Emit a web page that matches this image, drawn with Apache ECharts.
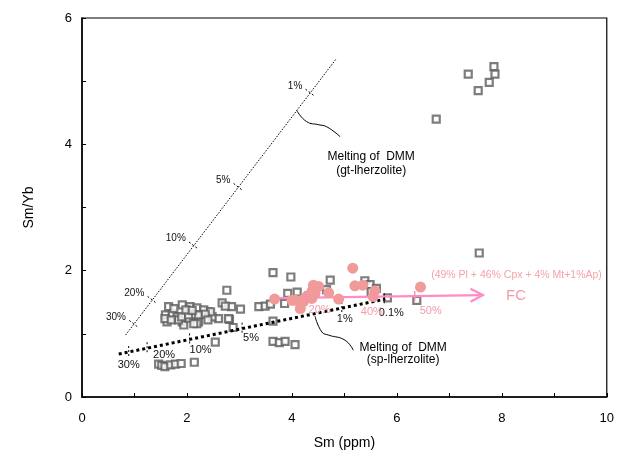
<!DOCTYPE html>
<html><head><meta charset="utf-8">
<script src="https://cdn.jsdelivr.net/npm/echarts@6/dist/echarts.min.js"></script>
<style>html,body{margin:0;padding:0;background:#fff}#c{width:617px;height:464px}</style>
</head><body><div id="c"></div>
<script>
// ---------- data ----------
const grayPoints = [
  [7.36,5.11],[7.85,5.23],[7.87,5.11],[7.76,4.98],[7.55,4.85],[6.75,4.40],[7.57,2.28],
  [3.64,1.97],[3.98,1.90],[4.73,1.85],[5.39,1.84],[5.49,1.78],[5.61,1.72],[5.51,1.67],
  [2.76,1.69],[3.92,1.64],[4.10,1.66],[4.66,1.70],[4.32,1.60],[3.86,1.48],[5.82,1.57],[6.38,1.53],
  [3.37,1.43],[3.49,1.44],[3.59,1.47],[2.67,1.49],[2.85,1.43],[3.02,1.39],[2.73,1.44],
  [2.60,1.24],[2.81,1.23],[2.88,1.10],[3.64,1.20],[2.54,0.87],
  [3.64,0.88],[3.76,0.86],[3.87,0.88],[4.06,0.83],
  [2.14,0.55],[1.46,0.52],[1.52,0.50],[1.58,0.48],[1.69,0.51],[1.78,0.52],[1.89,0.53],
  [1.59,1.30],[1.62,1.19],[1.72,1.32],[1.81,1.27],[1.91,1.19],[1.94,1.14],[2.03,1.25],
  [2.13,1.30],[2.22,1.19],[2.19,1.16],[2.32,1.32],[2.41,1.35],[2.48,1.27],[2.79,1.24],
  [1.65,1.43],[1.91,1.46],[2.06,1.43],[2.19,1.41],[2.32,1.38],[2.45,1.35],[1.84,1.22],
  [2.13,1.16],[1.90,1.27],[2.03,1.30],[2.22,1.30],[2.35,1.31],[1.75,1.40],[1.98,1.38],
  [2.10,1.37],[1.58,1.24],[1.70,1.22],[2.40,1.22]
];
const pinkPoints = [
  [3.67,1.55],[4.00,1.53],[4.06,1.53],[4.19,1.53],[4.16,1.40],[4.22,1.51],[4.28,1.59],
  [4.38,1.67],[4.41,1.77],[4.51,1.75],[4.44,1.64],[4.38,1.56],[4.70,1.65],[4.89,1.55],
  [5.16,2.04],[5.20,1.76],[5.35,1.77],[5.58,1.68],[5.55,1.59],[6.45,1.74]
];
const gtMeltLine = [[0.83,0.98],[4.85,5.36]];
const gtTickX = [4.35,2.98,2.13,1.34,0.99];
const gtTickLabels = ['1%','5%','10%','20%','30%'];
const spMeltLine = [[0.70,0.68],[5.78,1.55]];
const spTickX = [0.89,1.24,2.05,3.05,4.95,5.76];
const spTickLabels = ['30%','20%','10%','5%','1%','0.1%'];
const fcLine = [[3.67,1.565],[7.64,1.614]];
const fcTickX = [4.28,5.58,6.34];
const fcTickLabels = ['20%','40%','50%'];
const gtLeader = [[4.09,4.54],[4.28,4.36],[4.51,4.31],[4.66,4.28],[4.92,4.12]];
const spLeader = [[4.44,1.28],[4.57,1.03],[4.70,0.98],[5.01,0.90],[5.17,0.74]];
const xAxisTicks = [0,2,4,6,8,10];
const yAxisTicks = [0,2,4,6];
const notes = [
  {text:'Melting of  DMM', at:[5.51,3.80]},
  {text:'(gt-lherzolite)', at:[5.51,3.59]},
  {text:'Melting of  DMM', at:[6.12,0.775]},
  {text:'(sp-lherzolite)', at:[6.12,0.585]}
];
const fcNote = {text:'(49% Pl + 46% Cpx + 4% Mt+1%Ap)', at:[8.28,1.93]};
const fcLabel = {text:'FC', at:[8.27,1.60]};

// ---------- layout (pixel offsets, not data) ----------
const spLabelOffsets = [[0,13],[17,7],[11,11],[9,9],[3,11],[7,14]];
const fcLabelOffsets = [[13,12],[-3,15],[16,15]];
const FONT = '"Liberation Sans", Arial, sans-serif';

function yOn(line, x){
  const [a,b] = line; return a[1] + (x - a[0]) * (b[1]-a[1])/(b[0]-a[0]);
}

function tickSeries(line, xs, labels, opts){
  return {
    type:'custom', z:opts.z||5, silent:true, clip:false,
    data: xs.map((x,i)=>[x, yOn(line,x), i]),
    renderItem(params, api){
      const i = api.value(2);
      const p = api.coord([api.value(0), api.value(1)]);
      let dx=0, dy=1;
      if (opts.perp){
        const p0 = api.coord(line[0]), p1 = api.coord(line[1]);
        let ux=p1[0]-p0[0], uy=p1[1]-p0[1]; const L=Math.hypot(ux,uy); ux/=L; uy/=L;
        dx = -uy; dy = ux;
      }
      const h = opts.half;
      const off = opts.offsets ? opts.offsets[i] : opts.offset;
      return {type:'group', children:[
        {type:'line', shape:{x1:p[0]-dx*h, y1:p[1]-dy*h, x2:p[0]+dx*h, y2:p[1]+dy*h},
         style:{stroke:opts.color, lineWidth:opts.lw||1, lineDash:opts.dash||null}},
        {type:'text', x:p[0]+off[0], y:p[1]+off[1],
         style:{text:labels[i], fill:opts.textColor, font:opts.font, align:opts.align||'center', verticalAlign:'middle'}}
      ]};
    }
  };
}

function textSeries(items, style){
  return {
    type:'custom', z:7, silent:true, clip:false,
    data: items.map((n,i)=>[n.at[0], n.at[1], i]),
    renderItem(params, api){
      const p = api.coord([api.value(0), api.value(1)]);
      return {type:'text', x:p[0], y:p[1],
        style:Object.assign({text:items[api.value(2)].text, align:'center', verticalAlign:'middle'}, style)};
    }
  };
}

const chart = echarts.init(document.getElementById('c'), null, {renderer:'canvas'});
chart.setOption({
  animation:false,
  backgroundColor:'#fff',
  grid:{left:82, right:6, top:18, bottom:67, show:true, borderColor:'#000', borderWidth:1.2, backgroundColor:'transparent'},
  xAxis:{
    type:'value', min:0, max:10, interval:1,
    name:'Sm (ppm)', nameLocation:'middle', nameGap:39,
    nameTextStyle:{fontSize:14, color:'#000', fontFamily:FONT},
    axisLine:{onZero:false, lineStyle:{color:'#000', width:1.5}},
    axisTick:{inside:true, length:4, lineStyle:{color:'#000'}},
    axisLabel:{color:'#000', fontSize:13, fontFamily:FONT, margin:15,
      formatter:v=> xAxisTicks.includes(v) ? String(v) : ''},
    splitLine:{show:false}
  },
  yAxis:{
    type:'value', min:0, max:6, interval:1,
    name:'Sm/Yb', nameLocation:'middle', nameGap:46,
    nameTextStyle:{fontSize:14, color:'#000', fontFamily:FONT},
    axisLine:{onZero:false, lineStyle:{color:'#000', width:1.5}},
    axisTick:{inside:true, length:4, lineStyle:{color:'#000'}},
    axisLabel:{color:'#000', fontSize:13, fontFamily:FONT, margin:10,
      formatter:v=> yAxisTicks.includes(v) ? String(v) : ''},
    splitLine:{show:false}
  },
  series:[
    {type:'scatter', z:2, data:grayPoints, symbol:'rect', symbolSize:7,
     itemStyle:{color:'#fff', borderColor:'#5c5c5c', borderWidth:2.2}},
    {type:'line', z:3, data:gtMeltLine, symbol:'none',
     lineStyle:{color:'#000', width:1, type:[1.5,1.5]}},
    {type:'line', z:3, data:spMeltLine, symbol:'none',
     lineStyle:{color:'#000', width:3, type:[3,3]}},
    {type:'line', z:3, data:gtLeader, symbol:'none', smooth:0.5, lineStyle:{color:'#000', width:1}},
    {type:'line', z:3, data:spLeader, symbol:'none', smooth:0.5, lineStyle:{color:'#000', width:1}},
    tickSeries(gtMeltLine, gtTickX, gtTickLabels,
      {perp:true, half:6, color:'#000', dash:[2,2], textColor:'#111', font:'10px '+FONT, align:'right', offset:[-8,-7]}),
    tickSeries(spMeltLine, spTickX, spTickLabels,
      {perp:false, half:6, color:'#000', dash:[2,2], textColor:'#111', font:'11px '+FONT, offsets:spLabelOffsets}),
    // FC trend line + arrowhead
    {type:'custom', z:4, silent:true, clip:false, data:[[0]],
     renderItem(params, api){
       const a = api.coord(fcLine[0]), b = api.coord(fcLine[1]);
       const ang = Math.atan2(b[1]-a[1], b[0]-a[0]);
       const L = 14, w = Math.PI/6.5;
       const c1=[b[0]-L*Math.cos(ang-w), b[1]-L*Math.sin(ang-w)];
       const c2=[b[0]-L*Math.cos(ang+w), b[1]-L*Math.sin(ang+w)];
       const st = {stroke:'#ff8cc6', lineWidth:2.2, fill:null};
       return {type:'group', children:[
         {type:'line', shape:{x1:a[0],y1:a[1],x2:b[0],y2:b[1]}, style:st},
         {type:'polyline', shape:{points:[c1,b,c2]}, style:st}
       ]};
     }},
    {type:'scatter', z:5, data:pinkPoints, symbol:'circle', symbolSize:11,
     itemStyle:{color:'#f09a9a', opacity:1}},
    tickSeries(fcLine, fcTickX, fcTickLabels,
      {z:6, perp:false, half:5, color:'#f48fb8', lw:1.5, textColor:'#f39aa6', font:'11px '+FONT, offsets:fcLabelOffsets}),
    textSeries(notes, {fill:'#000', font:'12px '+FONT}),
    textSeries([fcNote], {fill:'#f4a3aa', font:'10.5px '+FONT}),
    textSeries([fcLabel], {fill:'#f49aa6', font:'15px '+FONT})
  ]
});
</script>
</body></html>
